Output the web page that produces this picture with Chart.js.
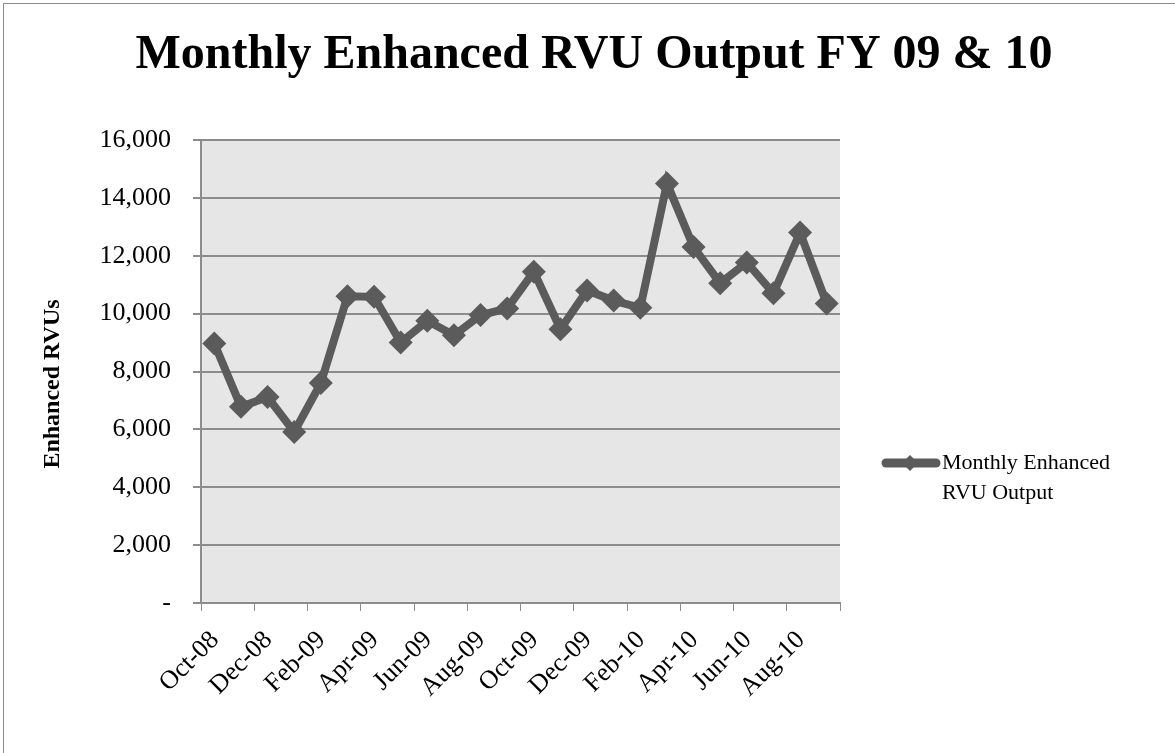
<!DOCTYPE html>
<html>
<head>
<meta charset="utf-8">
<script src="https://cdn.jsdelivr.net/npm/chart.js@4/dist/chart.umd.min.js"></script>
<style>
  html, body { margin: 0; padding: 0; background: #fff; }
  #wrap { width: 1175px; height: 753px; }
</style>
</head>
<body>
<div id="wrap"><canvas id="rvu"></canvas></div>
<script>
var months = ['Oct-08','Nov-08','Dec-08','Jan-09','Feb-09','Mar-09','Apr-09','May-09','Jun-09','Jul-09','Aug-09','Sep-09',
              'Oct-09','Nov-09','Dec-09','Jan-10','Feb-10','Mar-10','Apr-10','May-10','Jun-10','Jul-10','Aug-10','Sep-10'];
var rvuOutput = [8970, 6780, 7120, 5910, 7600, 10600, 10580, 9000, 9750, 9250, 9950, 10180,
                 11450, 9460, 10800, 10450, 10200, 14500, 12300, 11050, 11770, 10700, 12800, 10350];
var seriesName = 'Monthly Enhanced RVU Output';
var chartTitle = 'Monthly Enhanced RVU Output FY 09 & 10';
var yTitle = 'Enhanced RVUs';

var serif = "'Liberation Serif', 'Times New Roman', serif";
var lineColor = '#5b5b5b';
var gridColor = '#8c8c8c';

// points sit in the middle of each month slot, ticks on slot edges
var points = rvuOutput.map(function (v, i) { return { x: i + 0.5, y: v }; });

var plotBg = {
  id: 'plotBg',
  beforeDraw: function (chart) {
    var c = chart.ctx, a = chart.chartArea;
    c.save();
    c.fillStyle = '#ffffff';
    c.fillRect(0, 0, chart.width, chart.height);
    c.strokeStyle = '#8c8c8c';
    c.lineWidth = 1;
    c.strokeRect(3.5, 3.5, 1300, 900);
    c.fillStyle = '#e6e6e6';
    c.fillRect(a.left, a.top, a.right - a.left, a.bottom - a.top);
    c.restore();
  }
};

// title, y axis title and the two-line legend, placed like the Excel original
var textBits = {
  id: 'textBits',
  afterDraw: function (chart) {
    var c = chart.ctx;
    c.save();
    c.fillStyle = '#000';
    c.textAlign = 'center';
    c.textBaseline = 'alphabetic';
    c.font = 'bold 48px ' + serif;
    c.fillText(chartTitle, 594, 68);

    c.save();
    c.translate(53, 384);
    c.rotate(-Math.PI / 2);
    c.textBaseline = 'middle';
    c.font = 'bold 24px ' + serif;
    c.fillText(yTitle, 0, 0);
    c.restore();

    var x0 = 886, x1 = 936, y = 463;
    c.strokeStyle = lineColor;
    c.lineWidth = 9;
    c.lineCap = 'round';
    c.beginPath(); c.moveTo(x0, y); c.lineTo(x1, y); c.stroke();
    c.fillStyle = lineColor;
    c.beginPath();
    c.moveTo(910, y - 8); c.lineTo(918, y); c.lineTo(910, y + 8); c.lineTo(902, y);
    c.closePath(); c.fill();
    c.fillStyle = '#000';
    c.textAlign = 'left';
    c.textBaseline = 'middle';
    c.font = '22px ' + serif;
    c.fillText('Monthly Enhanced', 942, y);
    c.fillText('RVU Output', 942, y + 30);
    c.restore();
  }
};

new Chart(document.getElementById('rvu'), {
  type: 'line',
  data: {
    datasets: [{
      label: seriesName,
      data: points,
      borderColor: lineColor,
      backgroundColor: lineColor,
      borderWidth: 8,
      pointStyle: 'rectRot',
      pointRadius: 12,
      pointBorderWidth: 0,
      pointHoverRadius: 12,
      tension: 0,
      fill: false
    }]
  },
  options: {
    responsive: true,
    maintainAspectRatio: false,
    animation: false,
    layout: { padding: { left: 30, right: 335, top: 140, bottom: 30 } },
    plugins: {
      legend: { display: false },
      tooltip: { enabled: false },
      title: { display: false }
    },
    scales: {
      x: {
        type: 'linear',
        min: 0,
        max: months.length,
        afterFit: function (s) { s.height = 120; },
        grid: { drawOnChartArea: false, color: gridColor, tickLength: 8 },
        border: { color: gridColor, width: 2 },
        ticks: {
          stepSize: 2,
          autoSkip: false,
          maxRotation: 45,
          minRotation: 45,
          color: '#000',
          padding: 14,
          labelOffset: 14,
          font: { family: serif, size: 26 },
          callback: function (v) { return v < months.length ? months[v] : ''; }
        }
      },
      y: {
        min: 0,
        max: 16000,
        afterFit: function (s) { s.width = 171; },
        grid: { color: gridColor, lineWidth: 2, tickLength: 8 },
        border: { color: gridColor, width: 2 },
        ticks: {
          stepSize: 2000,
          color: '#000',
          padding: 22,
          font: { family: serif, size: 26 },
          callback: function (v) { return v === 0 ? '-' : v.toLocaleString('en-US'); }
        }
      }
    }
  },
  plugins: [plotBg, textBits]
});
</script>
</body>
</html>
